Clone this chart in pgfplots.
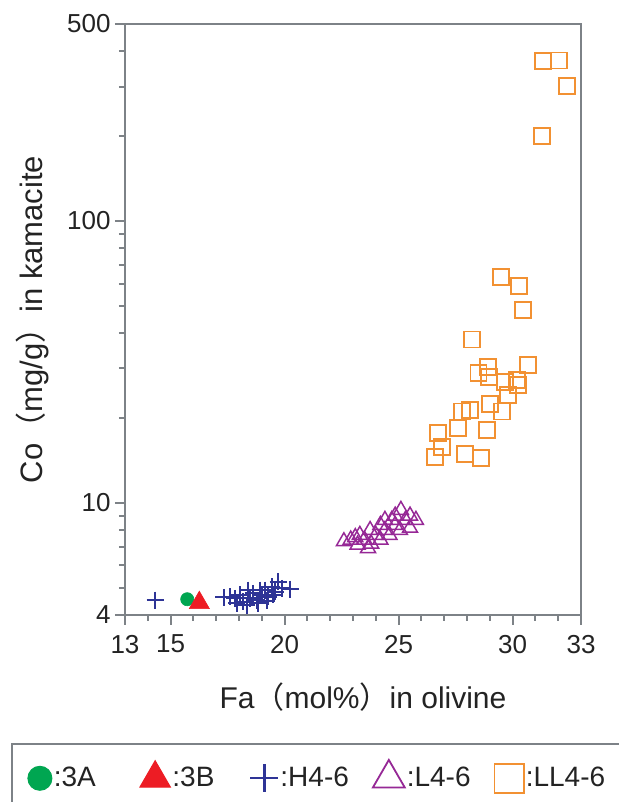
\documentclass[border=0pt]{standalone}
\usepackage{pgfplots}
\pgfplotsset{compat=1.18}
\usepackage{fontspec}
\setmainfont{Liberation Sans}
\newfontfamily\cjk{Noto Sans CJK SC}
\definecolor{cgreen}{RGB}{0,166,81}
\definecolor{cred}{RGB}{237,28,36}
\definecolor{cblue}{RGB}{46,52,150}
\definecolor{cpurple}{RGB}{150,40,150}
\definecolor{corange}{RGB}{242,145,50}
\definecolor{axgray}{RGB}{125,130,135}
\definecolor{txt}{RGB}{35,35,35}
\pgfplotsset{myleg/.style={only marks, legend image code/.code={\draw[##1] plot coordinates {(0cm,0cm)};}}}
\begin{document}
\begin{tikzpicture}
\begin{axis}[
  scale only axis, width=228pt, height=295.5pt,
  xmin=13, xmax=33, ymode=log, ymin=4, ymax=500,
  xtick={13,15,20,25,30,33},
  minor xtick={14,16,17,18,19,21,22,23,24,26,27,28,29,31,32},
  ytick={4,10,100,500}, yticklabels={4,10,100,500},
  minor ytick={5,6,7,8,9,20,30,40,50,60,70,80,90,200,300,400},
  tick align=outside, xtick pos=bottom, ytick pos=left,
  major tick length=5pt, minor tick length=3pt,
  axis line style={draw=axgray, line width=1pt},
  tick style={axgray, line width=1pt},
  minor tick style={axgray, line width=1pt},
  /pgf/number format/assume math mode=true,
  tick label style={font=\fontsize{13}{15}\selectfont, text=txt},
  yticklabel style={inner xsep=2pt},
  xticklabel style={yshift=-1.5pt},
  every axis x label/.style={at={(axis description cs:0.522,-0.1574)}, anchor=base, font=\fontsize{15}{18}\selectfont, text=txt},
  every axis y label/.style={at={(axis description cs:-0.204,0.5)}, rotate=90, anchor=center, font=\fontsize{15.5}{18}\selectfont, text=txt},
  xlabel={Fa{\cjk （}mol\%{\cjk ）}in olivine},
  ylabel={Co{\cjk （}mg/g{\cjk ）}in kamacite},
  clip=false,
  legend columns=5,
  legend style={at={(-0.25,-0.2166)}, anchor=north west, draw=axgray, line width=0.9pt,
    font=\fontsize{14}{16}\selectfont, text=txt, inner xsep=8pt, inner ysep=8pt,
    nodes={inner xsep=1pt, inner ysep=0pt},
    /tikz/column 2/.style={column sep=21pt},
    /tikz/column 4/.style={column sep=17pt},
    /tikz/column 6/.style={column sep=11pt},
    /tikz/column 8/.style={column sep=11pt}},
]
% legend images
\addlegendimage{myleg, mark=*, mark size=6pt, mark options={draw=cgreen, fill=cgreen, line width=0.5pt}}
\addlegendentry{:3A}
\addlegendimage{myleg, mark=triangle*, mark size=8.8pt, mark options={draw=cred, fill=cred, line width=0.5pt}}
\addlegendentry{:3B}
\addlegendimage{myleg, mark=+, mark size=7pt, mark options={draw=cblue, line width=1.1pt}}
\addlegendentry{:H4-6}
\addlegendimage{myleg, mark=triangle, mark size=9.2pt, mark options={draw=cpurple, line width=0.9pt}}
\addlegendentry{:L4-6}
\addlegendimage{myleg, mark=square, mark size=7.3pt, mark options={draw=corange, line width=0.9pt}}
\addlegendentry{:LL4-6}

% H4-6
\addplot[forget plot, only marks, mark=+, mark size=4.25pt, mark options={draw=cblue, line width=1pt}] coordinates {
(14.32,4.52) (17.34,4.62) (17.61,4.64) (17.82,4.58) (17.90,4.40) (18.04,4.71)
(18.19,4.46) (18.34,4.34) (18.41,4.90) (18.48,4.58) (18.63,4.77) (18.78,4.52)
(18.85,4.40) (18.92,4.90) (19.00,4.71) (19.14,4.90) (19.21,4.49) (19.29,4.64)
(19.43,5.04) (19.51,4.71) (19.58,4.84) (19.72,5.25) (19.87,4.97) (20.24,4.94)
};
% L4-6
\addplot[forget plot, only marks, mark=triangle, mark size=4.3pt, mark options={draw=cpurple, line width=0.75pt}] coordinates {
(25.1,9.43) (25.76,8.69) (24.7,8.69) (24.2,8.34) (23.75,8.0) (23.3,7.69)
(22.9,7.4) (23.2,7.1) (23.5,7.4) (24.0,7.69) (24.4,8.0) (24.85,8.34)
(25.3,8.69) (25.5,8.15) (25.06,8.0) (24.6,7.69) (24.2,7.4) (23.8,7.15)
(25.5,9.0) (24.85,9.0) (24.4,8.69) (23.66,6.9) (22.6,7.3) (23.1,7.55)
};
% LL4-6
\addplot[forget plot, only marks, mark=square, mark size=4pt, mark options={draw=corange, line width=0.9pt}] coordinates {
(31.35,370.7) (32.05,371) (32.37,301) (31.30,200.2)
(29.48,63.4) (30.29,58.8) (30.47,48.3) (28.21,38.0) (30.69,30.8)
(28.50,28.9) (28.91,30.3) (28.98,28.0) (29.67,26.9) (30.25,26.2)
(30.18,27.3) (29.81,24.1) (29.01,22.4) (29.52,21.1) (28.13,21.4)
(27.77,21.1) (27.62,18.4) (26.74,17.7) (28.86,18.1) (26.89,15.8)
(26.60,14.5) (27.91,14.9) (28.60,14.4)
};
% 3A
\addplot[forget plot, only marks, mark=*, mark size=3.3pt, mark options={draw=cgreen, fill=cgreen, line width=0.3pt}] coordinates {(15.73,4.55)};
% 3B
\addplot[forget plot, only marks, mark=triangle*, mark size=5.8pt, mark options={draw=cred, fill=cred, line width=0.3pt}] coordinates {(16.26,4.42)};
\end{axis}
\pgfresetboundingbox
\path (current axis.south west) ++(-62.5pt,-93.5pt) rectangle ++(309.5pt,401pt);
\end{tikzpicture}
\end{document}
